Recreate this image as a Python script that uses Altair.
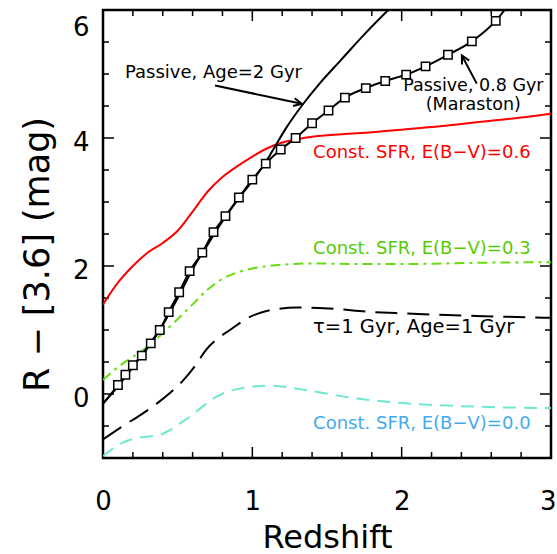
import altair as alt
import pandas as pd
import math

# ---------------- data ----------------
z_red = [0, 0.1, 0.2, 0.3, 0.4, 0.5, 0.6, 0.7, 0.8, 0.9, 1.0, 1.1, 1.2, 1.3, 1.4, 1.6, 1.8, 2.0, 2.2, 2.4, 2.6, 2.8, 3.0]
y_red = [1.40, 1.74, 2.00, 2.21, 2.36, 2.55, 2.85, 3.16, 3.39, 3.56, 3.71, 3.84, 3.93, 3.98, 4.02, 4.06, 4.09, 4.13, 4.17, 4.22, 4.27, 4.32, 4.38]

z_green = [0, 0.1, 0.2, 0.3, 0.4, 0.5, 0.6, 0.7, 0.8, 0.9, 1.0, 1.2, 1.4, 1.7, 2.0, 2.5, 3.0]
y_green = [0.22, 0.42, 0.58, 0.74, 0.95, 1.17, 1.40, 1.63, 1.80, 1.90, 1.96, 2.02, 2.04, 2.03, 2.03, 2.05, 2.06]

z_tau = [0, 0.14, 0.25, 0.36, 0.45, 0.54, 0.62, 0.69, 0.77, 0.85, 0.98, 1.14, 1.30, 1.48, 1.81, 2.0, 2.5, 3.0]
y_tau = [-0.71, -0.49, -0.33, -0.15, 0.02, 0.22, 0.45, 0.69, 0.87, 1.00, 1.20, 1.32, 1.35, 1.34, 1.28, 1.26, 1.22, 1.19]

z_cyan = [0, 0.14, 0.25, 0.38, 0.45, 0.52, 0.58, 0.67, 0.76, 0.87, 0.98, 1.12, 1.36, 1.70, 2.0, 2.4, 3.0]
y_cyan = [-0.97, -0.75, -0.68, -0.64, -0.56, -0.45, -0.36, -0.19, -0.04, 0.06, 0.11, 0.13, 0.06, -0.07, -0.14, -0.19, -0.22]

z_pass2 = [0, 0.1, 0.2, 0.3, 0.4, 0.5, 0.6, 0.7, 0.8, 0.9, 1.0, 1.1, 1.16, 1.23, 1.33, 1.45, 1.59, 1.75, 1.91]
y_pass2 = [-0.15, 0.12, 0.42, 0.74, 1.08, 1.50, 1.95, 2.33, 2.70, 3.03, 3.33, 3.66, 3.90, 4.17, 4.50, 4.85, 5.21, 5.62, 6.0]

z_mar = [0, 0.10, 0.15, 0.20, 0.26, 0.32, 0.38, 0.44, 0.51, 0.58, 0.665, 0.74, 0.82, 0.91, 1.00, 1.09, 1.19, 1.29,
         1.40, 1.51, 1.62, 1.76, 1.89, 2.03, 2.16, 2.31, 2.47, 2.63, 2.69]
y_mar = [-0.15, 0.14, 0.30, 0.45, 0.60, 0.79, 1.00, 1.28, 1.59, 1.92, 2.21, 2.53, 2.78, 3.07, 3.35, 3.60, 3.82, 4.00,
         4.23, 4.43, 4.63, 4.78, 4.89, 4.99, 5.12, 5.30, 5.51, 5.83, 6.0]
mar_marked = [False] + [True] * 27 + [False]

label_text = ["Passive, Age=2 Gyr", "Const. SFR, E(B−V)=0.6", "Const. SFR, E(B−V)=0.3",
              "Const. SFR, E(B−V)=0.0"]
label_x = [0.147, 1.407, 1.407, 1.407]
label_y = [5.02, 3.76, 2.26, -0.47]
label_color = ["#000000", "#ff0000", "#55cc00", "#44aaee"]

tau_text = ["τ=1 Gyr, Age=1 Gyr"]
tau_x = [1.407]
tau_y = [1.05]

mlabel_text = ["Passive, 0.8 Gyr", "(Maraston)"]
mlabel_x = [2.48, 2.48]
mlabel_y = [4.81, 4.51]

arrow_tail_x = [0.75, 2.503]
arrow_tail_y = [4.82, 4.85]
arrow_tip_x = [1.331, 2.403]
arrow_tip_y = [4.535, 5.29]

x_major = [0, 1, 2, 3]
x_minor = [0.2, 0.4, 0.6, 0.8, 1.2, 1.4, 1.6, 1.8, 2.2, 2.4, 2.6, 2.8]
y_major = [0, 2, 4, 6]
y_minor = [-0.5, 0.5, 1, 1.5, 2.5, 3, 3.5, 4.5, 5, 5.5]

# ---------------- layout ----------------
W, H = 448, 448
FONT = "DejaVu Sans"
XS = alt.Scale(domain=[0, 3], nice=False, zero=False)
YS = alt.Scale(domain=[-1, 6], nice=False, zero=False)
pxx = W / 3.0
pxy = H / 7.0

AX = alt.Axis(values=x_major, ticks=False, domain=False, grid=False,
              labelFontSize=26, labelFont=FONT, labelColor="black",
              labelPadding=30, labelFlush=False,
              labelAlign=alt.expr("datum.value == 3 ? 'right' : 'center'"),
              labelOffset=alt.expr("datum.value == 3 ? 5 : 0"),
              titleFontSize=32, titleFont=FONT, titleFontWeight="normal",
              titleColor="black", titleY=89, titleBaseline="alphabetic")
AY = alt.Axis(values=y_major, ticks=False, domain=False, grid=False,
              labelFontSize=26, labelFont=FONT, labelColor="black",
              labelPadding=14, labelFlush=True, labelOffset=4,
              titleFontSize=35, titleFont=FONT, titleFontWeight="normal",
              titleColor="black", titleX=-66, titleY=244, titleAngle=270,
              titleAlign="center", titleBaseline="middle")
XT = "Redshift"
YT = "R − [3.6] (mag)"


def X(f):
    return alt.X(f, scale=XS, axis=AX, title=XT)


def Y(f):
    return alt.Y(f, scale=YS, axis=AY, title=YT)


def line_layer(zs, ys, color, dash=None, width=2.0):
    df = pd.DataFrame({"z": zs, "y": ys})
    kw = dict(color=color, strokeWidth=width, clip=True, interpolate="monotone")
    if dash:
        kw["strokeDash"] = dash
    return alt.Chart(df).mark_line(**kw).encode(x=X("z:Q"), y=Y("y:Q"))


layers = []


# tick marks (inward, all four sides)
def xticks(vals, length):
    df = pd.DataFrame({"z": vals})
    b = alt.Chart(df).mark_rule(color="black", strokeWidth=1.5)
    return [
        b.encode(x=X("z:Q"), y=alt.value(H), y2=alt.value(H - length)),
        b.encode(x=X("z:Q"), y=alt.value(0), y2=alt.value(length)),
    ]


def yticks(vals, length):
    df = pd.DataFrame({"y": vals})
    b = alt.Chart(df).mark_rule(color="black", strokeWidth=1.5)
    return [
        b.encode(y=Y("y:Q"), x=alt.value(0), x2=alt.value(length)),
        b.encode(y=Y("y:Q"), x=alt.value(W), x2=alt.value(W - length)),
    ]


layers += xticks(x_major, 11) + xticks(x_minor, 6) + yticks(y_major, 11) + yticks(y_minor, 6)

# curves
layers.append(line_layer(z_cyan, y_cyan, "#6ee8d0", dash=[13, 8]))
layers.append(line_layer(z_tau, y_tau, "#000000", dash=[22, 10]))
layers.append(line_layer(z_green, y_green, "#66dd11", dash=[10, 5, 3, 5]))
layers.append(line_layer(z_red, y_red, "#ff0000"))
layers.append(line_layer(z_pass2, y_pass2, "#000000"))
layers.append(line_layer(z_mar, y_mar, "#000000"))

mar_df = pd.DataFrame({"z": z_mar, "y": y_mar, "m": mar_marked})
mar_df = mar_df[mar_df["m"]]
layers.append(
    alt.Chart(mar_df).mark_point(shape="square", filled=True, fill="white", stroke="black",
                                 strokeWidth=1.5, size=70, opacity=1).encode(x=X("z:Q"), y=Y("y:Q"))
)

# labels
lab_df = pd.DataFrame({"z": label_x, "y": label_y, "t": label_text, "c": label_color})
layers.append(
    alt.Chart(lab_df).mark_text(align="left", baseline="middle", font=FONT, fontSize=18).encode(
        x=X("z:Q"), y=Y("y:Q"), text="t:N", color=alt.Color("c:N", scale=None))
)
tau_df = pd.DataFrame({"z": tau_x, "y": tau_y, "t": tau_text})
layers.append(
    alt.Chart(tau_df).mark_text(align="left", baseline="middle", font=FONT, fontSize=19.5,
                                color="black").encode(x=X("z:Q"), y=Y("y:Q"), text="t:N")
)
mlab_df = pd.DataFrame({"z": mlabel_x, "y": mlabel_y, "t": mlabel_text})
layers.append(
    alt.Chart(mlab_df).mark_text(align="center", baseline="middle", font=FONT, fontSize=17.5,
                                 color="black").encode(x=X("z:Q"), y=Y("y:Q"), text="t:N")
)

# arrows
arr_df = pd.DataFrame({"z": arrow_tail_x, "y": arrow_tail_y, "z2": arrow_tip_x, "y2": arrow_tip_y})
layers.append(
    alt.Chart(arr_df).mark_rule(color="black", strokeWidth=2).encode(
        x=X("z:Q"), y=Y("y:Q"), x2="z2:Q", y2="y2:Q")
)
angles = []
for tx, ty, hx, hy in zip(arrow_tail_x, arrow_tail_y, arrow_tip_x, arrow_tip_y):
    dx = (hx - tx) * pxx
    dy = -(hy - ty) * pxy
    ang = math.degrees(math.atan2(dx, -dy)) % 360
    angles.append(ang)
head_df = pd.DataFrame({"z": arrow_tip_x, "y": arrow_tip_y, "a": angles})
layers.append(
    alt.Chart(head_df).mark_point(shape="M-0.6,1.2L0,0L0.6,1.2", filled=False, stroke="black",
                                  strokeWidth=2, size=180, opacity=1).encode(
        x=X("z:Q"), y=Y("y:Q"), angle=alt.Angle("a:Q", scale=None))
)

chart = alt.layer(*layers).properties(
    width=W, height=H,
    autosize=alt.AutoSizeParams(type="none"),
    padding={"left": 103, "top": 10, "right": 6, "bottom": 96},
    background="white",
).configure_view(stroke="black", strokeWidth=2.5)

chart.save("out.html", embed_options={"renderer": "svg", "actions": False})
